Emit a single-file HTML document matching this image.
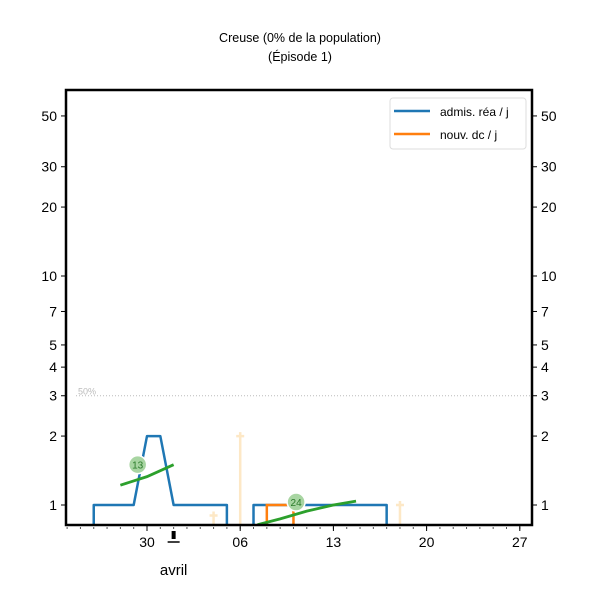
<!DOCTYPE html>
<html><head><meta charset="utf-8"><style>
body{margin:0;background:#fff}
svg{display:block;font-family:"Liberation Sans",sans-serif}
</style></head><body>
<svg id="chart" width="600" height="600" viewBox="0 0 600 600">
<rect width="600" height="600" fill="#fff"/>
<text x="300" y="42" text-anchor="middle" font-size="12.5">Creuse (0% de la population)</text>
<text x="300" y="61" text-anchor="middle" font-size="12.5">(Épisode 1)</text>
<g id="grid"></g>
<g id="marks"></g>
<g id="axes"></g>
<g>
<rect x="390" y="98" width="136" height="51" rx="3" fill="#fff" stroke="#ddd"/>
<line x1="394" y1="111" x2="430" y2="111" stroke="#1f77b4" stroke-width="2.5"/>
<text x="440" y="116" font-size="12">admis. réa / j</text>
<line x1="394" y1="134" x2="430" y2="134" stroke="#ff7f0e" stroke-width="2.5"/>
<text x="440" y="139" font-size="12">nouv. dc / j</text>
</g>
</svg>
<script>
// data (day 0 = 30 mars)
const days = [-5,-4,-3,-2,-1,0,1,2,3,4,5,6,7,8,9,10,11,12,13,14,15,16,17,18,19];
const admis = [0,1,1,1,1,2,2,1,1,1,1,1,0,1,1,1,1,1,1,1,1,1,1,1,0];
const deces = [0,0,0,0,0,0,0,0,0,0,0,0,0,0,0,0,0,0,0,0,0,0,0,0,0];
const decesDays = [8,9,10,11,12];
const decesVals = [0,1,1,1,0];
const faintDays = [5,7,19];
const faintVals = [0.9,2,1];
const trend1Days = [-2,0,2];
const trend1Vals = [1.22,1.33,1.5];
const trend2Days = [8.3,10,12,14,15.7];
const trend2Vals = [0.82,0.87,0.94,1.0,1.04];
const labelDays = [-0.7,11.2];
const labelVals = [1.5,1.03];
const labelTexts = ["13","24"];
const yTicks = [1,2,3,4,5,7,10,20,30,50];
const xTickDays = [0,7,14,21,28];
const xTickLabels = ["30","06","13","20","27"];

const L=66,R=532,T=90,B=525;
const X=d=>147+d*(93.2/7);
const Y=v=>505-Math.log10(v)*229;
const Yc=v=>v<=0?B+2:Math.min(Y(v),B+2);
const NS="http://www.w3.org/2000/svg";
function mk(p,t,a){const e=document.createElementNS(NS,t);for(const k in a)e.setAttribute(k,a[k]);p.appendChild(e);return e;}
const grid=document.getElementById('grid'),marks=document.getElementById('marks'),axes=document.getElementById('axes');

let el=mk(grid,'line',{x1:L+10,x2:R,y1:Y(3),y2:Y(3),stroke:'#bbb','stroke-dasharray':'1,2','stroke-width':1});


el=mk(grid,'text',{x:78,y:Y(3)-1,'font-size':9,fill:'#bbb'});el.textContent='50%';



function stepPath(ds,vs){let d='';for(let i=0;i<ds.length;i++){const x=X(ds[i]);const y=Yc(vs[i]);
 if(i>0&&(vs[i]<=0)!==(vs[i-1]<=0)){const xx=vs[i]<=0?X(ds[i-1]):x;d+=`L${xx},${vs[i]<=0?B+2:Yc(vs[i-1])}L${xx},${y}`;}
 d+=(i?'L':'M')+x+','+y;}return d;}
function linePath(ds,vs){return ds.map((d,i)=>(i?'L':'M')+X(d)+','+Y(vs[i])).join('');}
const cp=mk(marks,'clipPath',{id:'clip'});mk(cp,'rect',{x:L,y:T,width:R-L,height:B-T});
const g=mk(marks,'g',{'clip-path':'url(#clip)'});

for(let i=0;i<faintDays.length;i++){const x=X(faintDays[i]),y=Y(faintVals[i]);
 el=mk(g,'path',{d:`M${x},${B}L${x},${y}M${x-4},${y}L${x+4},${y}M${x},${y-4}L${x},${y+4}`,stroke:'#fde8c6','stroke-width':2.5,fill:'none'});
 
 }

el=mk(g,'path',{d:stepPath(days,admis),stroke:'#1f77b4','stroke-width':2.5,fill:'none','stroke-linejoin':'round'});


el=mk(g,'path',{d:stepPath(decesDays,decesVals),stroke:'#ff7f0e','stroke-width':2.5,fill:'none'});


el=mk(g,'path',{d:linePath(trend1Days,trend1Vals),stroke:'#2ca02c','stroke-width':2.8,fill:'none'});


el=mk(g,'path',{d:linePath(trend2Days,trend2Vals),stroke:'#2ca02c','stroke-width':2.8,fill:'none'});


for(let i=0;i<labelDays.length;i++){const x=X(labelDays[i]),y=Y(labelVals[i]);
 el=mk(marks,'circle',{cx:x,cy:y,r:9,fill:'#a8d5a2',stroke:'#fff','stroke-width':1.5});
 
 
 el=mk(marks,'text',{x:x,y:y+4,'text-anchor':'middle','font-size':10,fill:'#2a7a2a'});el.textContent=labelTexts[i];
 
 }

el=mk(axes,'rect',{x:L,y:T,width:R-L,height:B-T,fill:'none',stroke:'#000','stroke-width':2.5});


yTicks.forEach(v=>{const y=Y(v);
 mk(axes,'line',{x1:L-5,x2:L,y1:y,y2:y,stroke:'#000'});mk(axes,'line',{x1:R,x2:R+5,y1:y,y2:y,stroke:'#000'});
 el=mk(axes,'text',{x:L-9,y:y+5,'text-anchor':'end','font-size':14});el.textContent=v;
 
 
 el=mk(axes,'text',{x:R+9,y:y+5,'font-size':14});el.textContent=v;
 
 });
for(let d=-6;d<=28;d++){const x=X(d);if(x<L||x>R)continue;mk(axes,'line',{x1:x,x2:x,y1:B+2,y2:B+4,stroke:'#555'});}
xTickDays.forEach((d,i)=>{const x=X(d);mk(axes,'line',{x1:x,x2:x,y1:B,y2:B+6,stroke:'#000'});
 el=mk(axes,'text',{x:x,y:B+22,'text-anchor':'middle','font-size':14});el.textContent=xTickLabels[i];
 
 });
const xm=X(2);
el=mk(axes,'rect',{x:xm-2,y:B+6,width:4,height:8,fill:'#000'});


mk(axes,'line',{x1:xm-6,x2:xm+6,y1:B+17,y2:B+17,stroke:'#000','stroke-width':1.5});
el=mk(axes,'text',{x:xm,y:575,'text-anchor':'middle','font-size':15});el.textContent='avril';


</script>
</body></html>
